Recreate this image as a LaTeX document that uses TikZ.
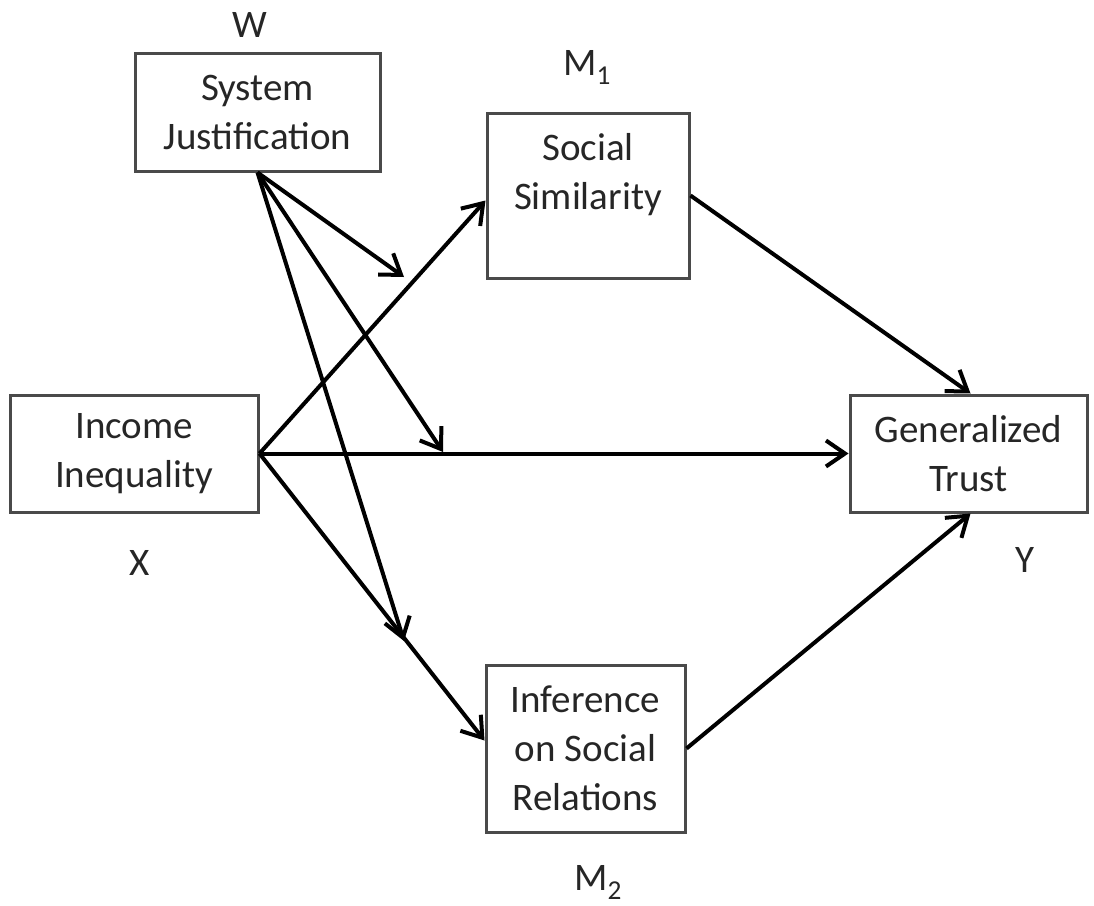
\documentclass[tikz,border=0pt]{standalone}
\usepackage{fontspec}
\setmainfont{Carlito}
\usetikzlibrary{arrows.meta,calc}
\definecolor{boxgray}{HTML}{4A4A4A}
\definecolor{textgray}{HTML}{262626}
\begin{document}
\begin{tikzpicture}[x=1pt,y=-1pt,
  box/.style={draw=boxgray, line width=3pt, align=center, inner sep=0pt, text=textgray, font=\fontsize{39}{49}\selectfont},
  lab/.style={text=textgray, font=\fontsize{39}{46}\selectfont, inner sep=0pt, anchor=base},
  arr/.style={line width=4pt, -{Straight Barb[length=19pt,width=26pt]}}]
\useasboundingbox (0,0) rectangle (1094,905);
% boxes
\node[box, minimum width=245pt, minimum height=118pt] (sj) at (257.5,112) {System\\Justification};
\node[box, minimum width=202pt, minimum height=165pt] (m1) at (588,195.5) {Social\\Similarity\\\mbox{}};
\node[box, minimum width=248pt, minimum height=117pt] (x) at (134,453.5) {Income\\Inequality};
\node[box, minimum width=237pt, minimum height=117pt] (y) at (968.5,453.5) {Generalized\\Trust};
\node[box, minimum width=199pt, minimum height=167pt] (m2) at (585.5,748.5) {Inference\\on Social\\Relations};
% labels
\node[lab] (wl) at (250,37) {W};
\node[lab] (m1l) at (587,75) {M\textsubscript{1}};
\node[lab] (xl) at (140,575) {X};
\node[lab] (yl) at (1025,572) {Y};
\node[lab] (m2l) at (598,890) {M\textsubscript{2}};
% moderation targets
\coordinate (t1) at (404,277);
\coordinate (t2) at (443,452);
\coordinate (t3) at (404,641);
% connectors
\draw[arr] (sj.south) -- (t1);
\draw[arr] (sj.south) -- (t2);
\draw[arr] (sj.south) -- (t3);
\draw[arr] (x.east) -- ([yshift=-5pt]m1.west);
\draw[arr] (x.east) -- (y.west);
\draw[arr] (x.east) -- ([yshift=8pt]m2.west);
\draw[arr] (m1.east) -- ([xshift=122pt]y.north west);
\draw[arr] (m2.east) -- ([xshift=122pt]y.south west);
\end{tikzpicture}
\end{document}
